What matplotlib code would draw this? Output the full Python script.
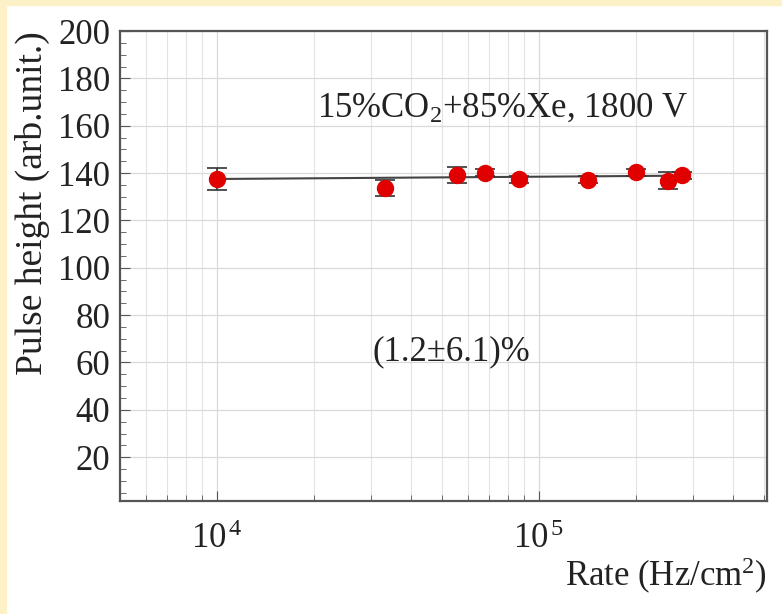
import matplotlib
matplotlib.use('Agg')
import matplotlib.pyplot as plt
import numpy as np
from matplotlib.patches import Rectangle
from matplotlib.ticker import LogLocator, MultipleLocator, FixedLocator, NullFormatter

plt.rcParams['font.family'] = 'Liberation Serif'
plt.rcParams['mathtext.fontset'] = 'custom'
plt.rcParams['mathtext.rm'] = 'Liberation Serif'
plt.rcParams['mathtext.it'] = 'Liberation Serif:italic'

# rate scan, 15% CO2 + 85% Xe at 1800 V
rate = [1.00e4, 3.33e4, 5.57e4, 6.80e4, 8.66e4, 1.42e5, 2.00e5, 2.51e5, 2.78e5]
pulse_height = [137.4, 133.6, 139.3, 140.1, 137.4, 137.1, 140.3, 136.7, 139.0]
pulse_err = [4.6, 3.3, 3.4, 1.5, 1.5, 1.5, 1.5, 3.6, 1.5]

# linear fit drawn over the measured range
fit_rate = [1.00e4, 2.78e5]
fit_height = [137.5, 138.9]

y_ticks = [20, 40, 60, 80, 100, 120, 140, 160, 180, 200]

fs = 25

fig = plt.figure(figsize=(7.82, 6.14), dpi=100)
fig.patches.append(Rectangle((0, 1 - 5 / 614), 1, 5 / 614, transform=fig.transFigure,
                             color='#fdf1c8', zorder=0))
fig.patches.append(Rectangle((0, 0), 6 / 782, 1, transform=fig.transFigure,
                             color='#fdf1c8', zorder=0))

ax = fig.add_axes([120 / 782, 1 - 501 / 614, 647 / 782, 470 / 614])
ax.set_xscale('log')
ax.set_xlim(5.0e3, 5.1e5)
ax.set_ylim(1.5, 200)

ax.xaxis.set_major_locator(LogLocator(base=10, numticks=10))
ax.xaxis.set_minor_locator(LogLocator(base=10, subs=np.arange(2, 10), numticks=20))
ax.xaxis.set_minor_formatter(NullFormatter())
ax.xaxis.set_major_formatter(lambda v, pos: r'$10^{\,%d}$' % round(np.log10(v)))
ax.yaxis.set_major_locator(FixedLocator(y_ticks))
ax.yaxis.set_minor_locator(MultipleLocator(5))

ax.grid(True, which='major', axis='both', color='#d9d9d9', lw=0.9)
ax.grid(True, which='minor', axis='x', color='#e3e3e3', lw=0.8)
ax.set_axisbelow(True)

for s in ax.spines.values():
    s.set_color('#555555')
    s.set_linewidth(1.6)

ax.tick_params(which='both', direction='in', colors='#555555', labelcolor='#222222',
               labelsize=fs)
ax.tick_params(which='major', length=7)
ax.tick_params(which='minor', length=4)
ax.tick_params(axis='x', pad=16)
ax.tick_params(axis='y', pad=7)

ax.plot(fit_rate, fit_height, color='#444444', lw=1.5, zorder=2)
ax.errorbar(rate, pulse_height, yerr=pulse_err, fmt='o', color='#e00000',
            ms=11.5, ecolor='#333333', elinewidth=1.2, capsize=7, capthick=1.2, zorder=3)

ax.text(0.304, 0.836, r'15%CO$_2$+85%Xe, 1800 V', transform=ax.transAxes,
        fontsize=fs, color='#222222', va='center', ha='left')
ax.text(0.39, 0.317, '(1.2\u00b16.1)%', transform=ax.transAxes,
        fontsize=fs, color='#222222', va='center', ha='left')

# axis titles pushed to the far end of each axis
ax.set_ylabel('Pulse height (arb.unit.)', fontsize=27, color='#222222', loc='top')
ax.yaxis.set_label_coords(-0.108, 1.0)
fig.text(767 / 782, 1 - 576 / 614, r'Rate (Hz/cm$^2$)', fontsize=fs, color='#222222',
         ha='right', va='center')

fig.savefig('out.png', dpi=100, facecolor='white')
